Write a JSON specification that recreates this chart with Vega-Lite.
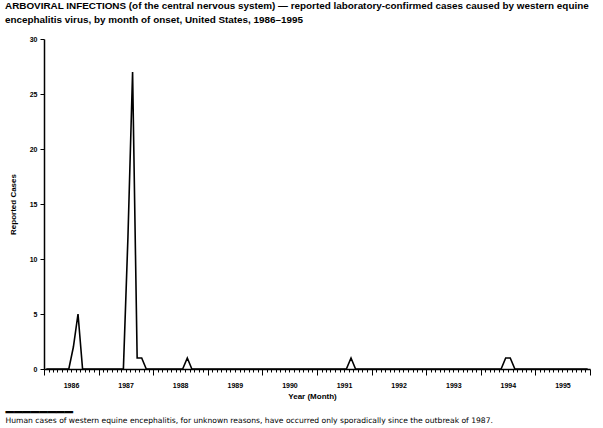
{
  "$schema": "https://vega.github.io/schema/vega-lite/v6.json",
  "width": 546,
  "height": 330,
  "autosize": {"type": "none"},
  "padding": {"left": 44, "top": 39, "right": 13, "bottom": 59},
  "background": "white",
  "title": {
    "text": ["ARBOVIRAL INFECTIONS (of the central nervous system) — reported laboratory-confirmed cases caused by western equine", "encephalitis virus, by month of onset, United States, 1986–1995"],
    "anchor": "start",
    "frame": "group",
    "dx": -39,
    "offset": 10,
    "font": "Liberation Sans",
    "fontSize": 9.9,
    "fontWeight": "bold",
    "lineHeight": 14,
    "color": "black"
  },
  "config": {
    "view": {"stroke": null},
    "axis": {"grid": false, "domainColor": "black", "tickColor": "black", "labelColor": "black", "titleColor": "black"}
  },
  "data": {
    "values": [
      {"month": "1986-01", "cases": 0}, {"month": "1986-02", "cases": 0}, {"month": "1986-03", "cases": 0}, {"month": "1986-04", "cases": 0},
      {"month": "1986-05", "cases": 0}, {"month": "1986-06", "cases": 0}, {"month": "1986-07", "cases": 2}, {"month": "1986-08", "cases": 5},
      {"month": "1986-09", "cases": 0}, {"month": "1986-10", "cases": 0}, {"month": "1986-11", "cases": 0}, {"month": "1986-12", "cases": 0},
      {"month": "1987-01", "cases": 0}, {"month": "1987-02", "cases": 0}, {"month": "1987-03", "cases": 0}, {"month": "1987-04", "cases": 0},
      {"month": "1987-05", "cases": 0}, {"month": "1987-06", "cases": 0}, {"month": "1987-07", "cases": 12}, {"month": "1987-08", "cases": 27},
      {"month": "1987-09", "cases": 1}, {"month": "1987-10", "cases": 1}, {"month": "1987-11", "cases": 0}, {"month": "1987-12", "cases": 0},
      {"month": "1988-01", "cases": 0}, {"month": "1988-02", "cases": 0}, {"month": "1988-03", "cases": 0}, {"month": "1988-04", "cases": 0},
      {"month": "1988-05", "cases": 0}, {"month": "1988-06", "cases": 0}, {"month": "1988-07", "cases": 0}, {"month": "1988-08", "cases": 1},
      {"month": "1988-09", "cases": 0}, {"month": "1988-10", "cases": 0}, {"month": "1988-11", "cases": 0}, {"month": "1988-12", "cases": 0},
      {"month": "1989-01", "cases": 0}, {"month": "1989-02", "cases": 0}, {"month": "1989-03", "cases": 0}, {"month": "1989-04", "cases": 0},
      {"month": "1989-05", "cases": 0}, {"month": "1989-06", "cases": 0}, {"month": "1989-07", "cases": 0}, {"month": "1989-08", "cases": 0},
      {"month": "1989-09", "cases": 0}, {"month": "1989-10", "cases": 0}, {"month": "1989-11", "cases": 0}, {"month": "1989-12", "cases": 0},
      {"month": "1990-01", "cases": 0}, {"month": "1990-02", "cases": 0}, {"month": "1990-03", "cases": 0}, {"month": "1990-04", "cases": 0},
      {"month": "1990-05", "cases": 0}, {"month": "1990-06", "cases": 0}, {"month": "1990-07", "cases": 0}, {"month": "1990-08", "cases": 0},
      {"month": "1990-09", "cases": 0}, {"month": "1990-10", "cases": 0}, {"month": "1990-11", "cases": 0}, {"month": "1990-12", "cases": 0},
      {"month": "1991-01", "cases": 0}, {"month": "1991-02", "cases": 0}, {"month": "1991-03", "cases": 0}, {"month": "1991-04", "cases": 0},
      {"month": "1991-05", "cases": 0}, {"month": "1991-06", "cases": 0}, {"month": "1991-07", "cases": 0}, {"month": "1991-08", "cases": 1},
      {"month": "1991-09", "cases": 0}, {"month": "1991-10", "cases": 0}, {"month": "1991-11", "cases": 0}, {"month": "1991-12", "cases": 0},
      {"month": "1992-01", "cases": 0}, {"month": "1992-02", "cases": 0}, {"month": "1992-03", "cases": 0}, {"month": "1992-04", "cases": 0},
      {"month": "1992-05", "cases": 0}, {"month": "1992-06", "cases": 0}, {"month": "1992-07", "cases": 0}, {"month": "1992-08", "cases": 0},
      {"month": "1992-09", "cases": 0}, {"month": "1992-10", "cases": 0}, {"month": "1992-11", "cases": 0}, {"month": "1992-12", "cases": 0},
      {"month": "1993-01", "cases": 0}, {"month": "1993-02", "cases": 0}, {"month": "1993-03", "cases": 0}, {"month": "1993-04", "cases": 0},
      {"month": "1993-05", "cases": 0}, {"month": "1993-06", "cases": 0}, {"month": "1993-07", "cases": 0}, {"month": "1993-08", "cases": 0},
      {"month": "1993-09", "cases": 0}, {"month": "1993-10", "cases": 0}, {"month": "1993-11", "cases": 0}, {"month": "1993-12", "cases": 0},
      {"month": "1994-01", "cases": 0}, {"month": "1994-02", "cases": 0}, {"month": "1994-03", "cases": 0}, {"month": "1994-04", "cases": 0},
      {"month": "1994-05", "cases": 0}, {"month": "1994-06", "cases": 1}, {"month": "1994-07", "cases": 1}, {"month": "1994-08", "cases": 0},
      {"month": "1994-09", "cases": 0}, {"month": "1994-10", "cases": 0}, {"month": "1994-11", "cases": 0}, {"month": "1994-12", "cases": 0},
      {"month": "1995-01", "cases": 0}, {"month": "1995-02", "cases": 0}, {"month": "1995-03", "cases": 0}, {"month": "1995-04", "cases": 0},
      {"month": "1995-05", "cases": 0}, {"month": "1995-06", "cases": 0}, {"month": "1995-07", "cases": 0}, {"month": "1995-08", "cases": 0},
      {"month": "1995-09", "cases": 0}, {"month": "1995-10", "cases": 0}, {"month": "1995-11", "cases": 0}, {"month": "1995-12", "cases": 0}
    ]
  },
  "resolve": {"axis": {"x": "independent"}},
  "layer": [
    {
      "mark": {"type": "line", "color": "black", "strokeWidth": 1.6},
      "encoding": {
        "x": {
          "field": "month", "type": "temporal", "timeUnit": "utcyearmonth", "bandPosition": 0.5,
          "scale": {"type": "utc", "domain": [{"year": 1986, "month": 1, "date": 1, "utc": true}, {"year": 1996, "month": 1, "date": 1, "utc": true}]},
          "axis": {
            "orient": "bottom",
            "title": "Year (Month)",
            "tickCount": {"interval": "month", "step": 1},
            "tickSize": {"condition": {"test": "utcmonth(datum.value) == 0", "value": 6}, "value": 3},
            "tickWidth": 1,
            "domainWidth": 1.5,
            "labelExpr": "utcmonth(datum.value) == 0 && utcyear(datum.value) < 1996 ? utcFormat(datum.value, '%Y') : ''",
            "labelOffset": 27,
            "labelAlign": "center",
            "labelOverlap": false,
            "labelFlush": false,
            "labelBound": false,
            "labelFont": "Liberation Sans",
            "labelFontSize": 7,
            "labelFontWeight": "bold",
            "labelPadding": 6,
            "titleFont": "Liberation Sans",
            "titleFontSize": 8,
            "titleFontWeight": "bold",
            "titlePadding": 4,
            "titleX": 268
          }
        },
        "y": {
          "field": "cases", "type": "quantitative",
          "scale": {"domain": [0, 30], "nice": false},
          "axis": {
            "title": "Reported Cases",
            "values": [0, 5, 10, 15, 20, 25, 30],
            "tickSize": 4, "tickWidth": 1, "domainWidth": 1.5,
            "labelFont": "Liberation Sans", "labelFontSize": 7, "labelFontWeight": "bold", "labelPadding": 3,
            "titleFont": "Liberation Sans", "titleFontSize": 8, "titleFontWeight": "bold", "titlePadding": 12
          }
        }
      }
    },
    {
      "mark": {"type": "line", "strokeOpacity": 0},
      "encoding": {
        "x": {
          "field": "month", "type": "temporal", "timeUnit": "utcyearmonth", "bandPosition": 0.5,
          "scale": {"type": "utc", "domain": [{"year": 1986, "month": 1, "date": 1, "utc": true}, {"year": 1996, "month": 1, "date": 1, "utc": true}]},
          "axis": {
            "orient": "bottom", "ticks": false, "labels": false, "domain": false,
            "title": "Human cases of western equine encephalitis, for unknown reasons, have occurred only sporadically since the outbreak of 1987.",
            "titleAnchor": "start", "titleAlign": "left", "titleAngle": 0,
            "titleX": -39, "titleY": 53, "titleBaseline": "alphabetic",
            "titleFont": "DejaVu Sans", "titleFontSize": 7.6, "titleFontWeight": "normal"
          }
        },
        "y": {
          "field": "cases", "type": "quantitative",
          "scale": {"domain": [0, 30], "nice": false},
          "axis": {
            "title": "Reported Cases",
            "values": [0, 5, 10, 15, 20, 25, 30],
            "tickSize": 4, "tickWidth": 1, "domainWidth": 1.5,
            "labelFont": "Liberation Sans", "labelFontSize": 7, "labelFontWeight": "bold", "labelPadding": 3,
            "titleFont": "Liberation Sans", "titleFontSize": 8, "titleFontWeight": "bold", "titlePadding": 12
          }
        }
      }
    },
    {
      "mark": {"type": "line", "strokeOpacity": 0},
      "encoding": {
        "x": {
          "field": "month", "type": "temporal", "timeUnit": "utcyearmonth", "bandPosition": 0.5,
          "scale": {"type": "utc", "domain": [{"year": 1986, "month": 1, "date": 1, "utc": true}, {"year": 1996, "month": 1, "date": 1, "utc": true}]},
          "axis": {
            "orient": "bottom", "ticks": false, "labels": false, "domain": false,
            "title": "━━━━━━━━",
            "titleAnchor": "start", "titleAlign": "left", "titleAngle": 0,
            "titleX": -39, "titleY": 43, "titleBaseline": "middle",
            "titleFont": "DejaVu Sans", "titleFontSize": 14, "titleFontWeight": "normal"
          }
        },
        "y": {
          "field": "cases", "type": "quantitative",
          "scale": {"domain": [0, 30], "nice": false},
          "axis": {
            "title": "Reported Cases",
            "values": [0, 5, 10, 15, 20, 25, 30],
            "tickSize": 4, "tickWidth": 1, "domainWidth": 1.5,
            "labelFont": "Liberation Sans", "labelFontSize": 7, "labelFontWeight": "bold", "labelPadding": 3,
            "titleFont": "Liberation Sans", "titleFontSize": 8, "titleFontWeight": "bold", "titlePadding": 12
          }
        }
      }
    }
  ]
}
